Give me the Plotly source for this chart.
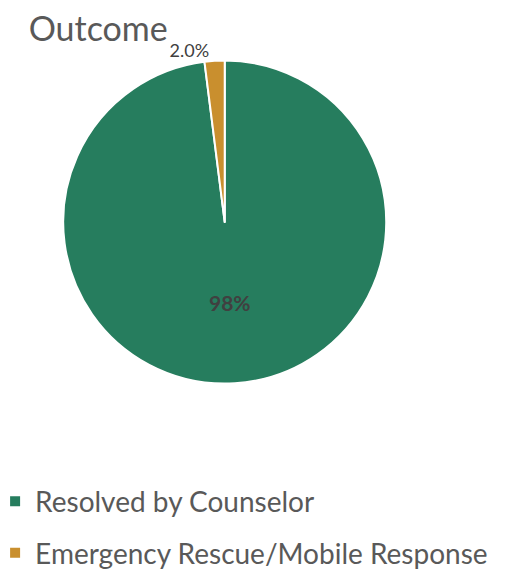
import plotly.graph_objects as go

labels = ["Resolved by Counselor", "Emergency Rescue/Mobile Response"]
values = [98, 2]
slice_text = ["<b>98%</b>", "2.0%"]
colors = ["#267d5e", "#c98f2e"]

fig = go.Figure()
fig.add_trace(go.Pie(
    labels=labels,
    values=values,
    text=slice_text,
    textinfo="text",
    textposition=["inside", "outside"],
    insidetextorientation="horizontal",
    sort=False,
    direction="clockwise",
    rotation=0,
    marker=dict(colors=colors, line=dict(color="white", width=2)),
    insidetextfont=dict(family="Lato, sans-serif", size=21, color="#404040"),
    outsidetextfont=dict(family="Lato, sans-serif", size=18, color="#404040"),
    domain=dict(x=[0.107, 0.733], y=[0.341, 0.908]),
    hoverinfo="label+percent",
    showlegend=False,
))

# legend entries (same categories/colours as the pie slices)
for i, (lab, col) in enumerate(zip(labels, colors)):
    fig.add_trace(go.Scatter(
        x=[None], y=[None], mode="markers", name=lab,
        marker=dict(symbol="square", size=10, color=col),
        legendgroup=f"g{i}", showlegend=True, hoverinfo="skip",
    ))

fig.update_layout(
    width=516, height=570,
    margin=dict(l=0, r=0, t=0, b=0, autoexpand=False),
    paper_bgcolor="white", plot_bgcolor="white",
    xaxis=dict(visible=False, domain=[0, 0.01]),
    yaxis=dict(visible=False, domain=[0, 0.01]),
    title=dict(text="Outcome", x=0.04, xanchor="left", y=0.963, yanchor="middle",
               font=dict(family="Lato, sans-serif", size=34, color="#595959")),
    legend=dict(x=-0.025, xanchor="left", y=0.178, yanchor="top",
                font=dict(family="Lato, sans-serif", size=28, color="#595959"),
                itemwidth=30, tracegroupgap=12),
    showlegend=True,
)

fig.write_html("out.html")
